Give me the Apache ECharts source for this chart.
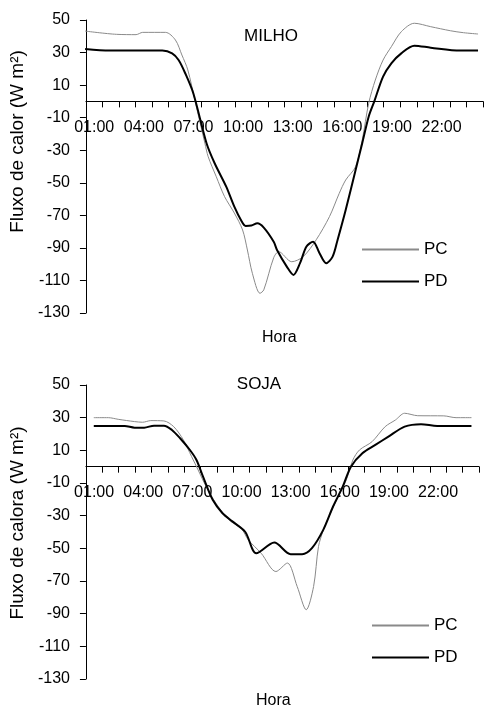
<!DOCTYPE html>
<html>
<head>
<meta charset="utf-8">
<script src="https://cdn.jsdelivr.net/npm/echarts@6/dist/echarts.min.js"></script>
<style>
  html, body { margin: 0; padding: 0; background: #fff; }
  #grafico { width: 486px; height: 708px; }
</style>
</head>
<body>
<div id="grafico"></div>
<script>
// rotulos do eixo x (hora) e posicao de cada um
var rotulosHora = ['01:00', '04:00', '07:00', '10:00', '13:00', '16:00', '19:00', '22:00'];
var posRotulos = [1, 4, 7, 10, 13, 16, 19, 22];

// MILHO - PC
var milhoPcHora = [0.45, 2.34, 3.53, 3.93, 5.31, 5.91, 6.3, 6.66, 7.1, 7.69, 7.89, 8.38, 8.88, 9.47, 9.97, 10.26, 10.56, 11.02, 11.25, 11.85, 12.15, 12.94, 13.63, 14.42, 15.22, 15.81, 16.2, 16.8, 17.2, 17.59, 17.99, 18.46, 18.96, 19.56, 20.35, 21.34, 22.53, 23.32, 24.2];
var milhoPcVal = [43.2, 41.2, 41, 42.4, 42.4, 37.7, 28.5, 19.3, 0, -25.7, -34, -46.3, -58.5, -68.6, -79, -91.3, -105.6, -117.9, -115.8, -96, -92.3, -98.5, -95.4, -85, -70.8, -56.5, -48.3, -40.1, -23.7, -1.2, 13.1, 25.4, 33.6, 42.8, 48, 45.9, 43.4, 42.2, 41.4];

// MILHO - PD
var milhoPdHora = [0.45, 1.94, 5.12, 5.71, 6.1, 6.5, 6.99, 7.79, 8.28, 8.98, 9.47, 9.87, 10.15, 10.5, 10.86, 11.25, 11.85, 12.05, 12.64, 13.04, 13.44, 13.83, 14.23, 14.62, 15.02, 15.41, 15.71, 16.2, 16.8, 17.2, 17.59, 17.93, 18.46, 18.96, 19.56, 20.35, 21.34, 23.12, 24.2];
var milhoPdVal = [32.2, 31.2, 31.2, 29.5, 25.4, 17.3, 5, -25.7, -38, -52.4, -64.7, -72.9, -76.5, -76.3, -74.9, -77.5, -86.2, -91.3, -101.5, -106.6, -99.4, -89.2, -86.2, -93.3, -99.4, -95.4, -85.1, -66.7, -42.1, -25.7, -9.4, 0, 15.2, 23.4, 29.5, 34.2, 33, 31.2, 31.2];

// SOJA - PC
var sojaPcHora = [0.98, 1.87, 2.47, 3.47, 3.96, 4.46, 5.26, 5.86, 6.45, 6.95, 7.35, 7.84, 8.44, 9.23, 10.0, 10.41, 11.2, 12.1, 12.8, 13.4, 13.95, 14.4, 14.7, 15.0, 15.25, 15.8, 16.4, 16.8, 17.2, 17.97, 18.77, 19.4, 19.96, 20.76, 22.35, 23.1, 24.04];
var sojaPcVal = [30, 30, 29, 27.6, 27.2, 28.2, 28, 24.5, 16.4, 6.2, -2, -12.2, -22.4, -32.6, -38, -44.8, -53, -64.2, -59, -73.4, -87.6, -73.4, -48.9, -38.7, -32.6, -20.3, -8.1, 4.1, 10.2, 15.3, 24.5, 28.6, 32.7, 31.2, 31.1, 30, 30];

// SOJA - PD
var sojaPdHora = [0.98, 2.87, 3.47, 4.06, 4.66, 5.26, 5.75, 6.25, 6.85, 7.25, 7.65, 8.24, 8.84, 9.44, 10.23, 10.9, 12.0, 13.0, 13.7, 14.3, 14.99, 15.59, 16.18, 16.68, 17.38, 18.17, 18.97, 19.96, 20.96, 21.95, 24.04];
var sojaPdVal = [24.9, 24.9, 23.9, 23.9, 25.1, 25.1, 22.5, 17.4, 10.2, 4.1, -6.1, -20.3, -28.5, -33.5, -40, -53, -46.5, -53.6, -53.6, -49.9, -38.7, -24.4, -12.2, 0, 8.2, 13.3, 18.4, 24.5, 26, 24.9, 24.9];

var fonte = 'Liberation Sans, Arial, sans-serif';
var yMin = -130, yMax = 50;
var alturaGrid = [293, 294];

// marcas do eixo x entre as horas
var marcasX = [];
for (var i = 0; i <= 24; i++) {
    marcasX.push(i + 0.5);
}

function pares(horas, vals) {
    var out = [];
    for (var i = 0; i < horas.length; i++) {
        out.push([horas[i], vals[i]]);
    }
    return out;
}

function eixoX(idx) {
    // eixo x passa pelo zero do eixo y
    var desloc = -alturaGrid[idx] * (0 - yMin) / (yMax - yMin);
    return {
        type: 'value', gridIndex: idx, min: 0.5, max: 24.5, position: 'bottom', offset: desloc,
        axisLine: { onZero: false, lineStyle: { color: '#000', width: 1 } },
        axisTick: { show: true, length: 6, customValues: marcasX, lineStyle: { color: '#000' } },
        axisLabel: {
            customValues: posRotulos, margin: 18, color: '#000', fontSize: 16, fontFamily: fonte,
            formatter: function (v) {
                var k = posRotulos.indexOf(v);
                return k >= 0 ? rotulosHora[k] : '';
            }
        },
        splitLine: { show: false }
    };
}

function eixoY(idx, nome, desvio) {
    return {
        type: 'value', gridIndex: idx, min: yMin, max: yMax, interval: 20,
        name: nome, nameLocation: 'middle', nameGap: 43,
        nameTextStyle: { color: '#000', fontSize: 19, fontFamily: fonte, padding: [0, 0, 0, desvio] },
        axisLine: { show: true, lineStyle: { color: '#000', width: 1 } },
        axisTick: { show: true, length: 6, lineStyle: { color: '#000' } },
        axisLabel: { margin: 16, color: '#000', fontSize: 16, fontFamily: fonte },
        splitLine: { show: false }
    };
}

function serie(nome, idx, dados, cor, larg) {
    return {
        name: nome, type: 'line', xAxisIndex: idx, yAxisIndex: idx,
        data: dados, symbol: 'none', smooth: 0.3,
        lineStyle: { color: cor, width: larg }, itemStyle: { color: cor },
        emphasis: { disabled: true }
    };
}

function legenda(esq, topo) {
    return {
        data: ['PC', 'PD'], orient: 'vertical', left: esq, top: topo, padding: 0,
        itemWidth: 57, itemHeight: 14, itemGap: 15, selectedMode: false,
        itemStyle: { opacity: 0 },
        textStyle: { fontSize: 17, color: '#000', fontFamily: fonte }
    };
}

var chart = echarts.init(document.getElementById('grafico'), null, { renderer: 'canvas' });

chart.setOption({
    animation: false,
    backgroundColor: '#fff',
    title: [
        { text: 'MILHO', left: 271, top: 28, textAlign: 'center', padding: 0,
          textStyle: { fontSize: 17, fontWeight: 'normal', color: '#000', fontFamily: fonte } },
        { text: 'SOJA', left: 259, top: 376, textAlign: 'center', padding: 0,
          textStyle: { fontSize: 17, fontWeight: 'normal', color: '#000', fontFamily: fonte } }
    ],
    legend: [legenda(361, 241), legenda(371, 617)],
    grid: [
        { left: 79, right: 3, top: 20, height: alturaGrid[0] },
        { left: 77, right: 7, top: 385, height: alturaGrid[1] }
    ],
    xAxis: [eixoX(0), eixoX(1)],
    yAxis: [eixoY(0, 'Fluxo de calor (W m²)', 50), eixoY(1, 'Fluxo de calora (W m²)', 18)],
    graphic: [
        { type: 'text', left: 262, top: 330, style: { text: 'Hora', fill: '#000', font: '16px ' + fonte } },
        { type: 'text', left: 256, top: 693, style: { text: 'Hora', fill: '#000', font: '16px ' + fonte } }
    ],
    series: [
        serie('PC', 0, pares(milhoPcHora, milhoPcVal), '#8a8a8a', 1),
        serie('PD', 0, pares(milhoPdHora, milhoPdVal), '#000', 2),
        serie('PC', 1, pares(sojaPcHora, sojaPcVal), '#8a8a8a', 1),
        serie('PD', 1, pares(sojaPdHora, sojaPdVal), '#000', 2)
    ]
});
</script>
</body>
</html>
